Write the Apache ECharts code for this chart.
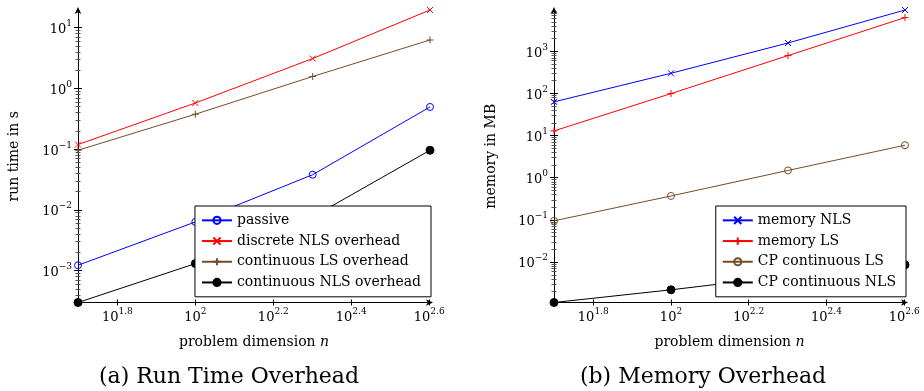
<!DOCTYPE html>
<html><head><meta charset="utf-8">
<script src="https://cdn.jsdelivr.net/npm/echarts@6/dist/echarts.min.js"></script>
<style>html,body{margin:0;padding:0;background:#fff}#c{width:924px;height:391px}</style>
</head><body><div id="c"></div>
<script>
// ---- data ----
const dims = [50, 100, 200, 400];
const xTickExps = [1.8, 2, 2.2, 2.4, 2.6];
// (a) run time overhead [s]
const passive = [0.00123, 0.00635, 0.038, 0.495];
const discreteNLS = [0.119, 0.575, 3.1, 19.5];
const continuousLS = [0.096, 0.376, 1.57, 6.26];
const continuousNLS = [0.0003, 0.00131, 0.0077, 0.096];
const yTickExpsA = [-3, -2, -1, 0, 1];
// (b) memory overhead [MB]
const memNLS = [63, 300, 1570, 9500];
const memLS = [12.9, 99, 789, 6280];
const cpLS = [0.095, 0.37, 1.49, 5.9];
const cpNLS = [0.0011, 0.0022, 0.0047, 0.0086];
const yTickExpsB = [-2, -1, 0, 1, 2, 3];

// ---- styling ----
const FAM = 'DejaVu Serif';
const BLUE = '#0000ff', RED = '#ff0000', BROWN = '#734d26', BLACK = '#000000';
const CROSS = 'path://M0,0L10,10M10,0L0,10';
const PLUS = 'path://M0,5L10,5M5,0L5,10';

function expFmt(v) {
  const e = Math.round(Math.log10(v) * 10) / 10;
  const s = (e < 0 ? '\u2212' : '') + Math.abs(e);
  return '{b|10}{s|' + s + '}';
}
const rich = {
  b: { fontFamily: FAM, fontSize: 13, color: '#000', lineHeight: 17, verticalAlign: 'bottom' },
  s: { fontFamily: FAM, fontSize: 9, color: '#000', verticalAlign: 'top' }
};
function minors(lo, hi) {
  const out = [];
  for (let k = Math.floor(Math.log10(lo)); k <= Math.ceil(Math.log10(hi)); k++) {
    for (let m = 2; m <= 9; m++) { const v = m * Math.pow(10, k); if (v >= lo && v <= hi) out.push(v); }
  }
  return out;
}
const lineBlack = { color: '#000', width: 1 };
const lineMinor = { color: '#555', width: 1 };

function xAxes(g) {
  const majors = xTickExps.map(e => Math.pow(10, e));
  const base = { type: 'log', gridIndex: g, min: dims[0], max: dims[dims.length - 1], position: 'bottom', splitLine: { show: false } };
  return [
    Object.assign({}, base, {
      axisLine: { show: true, onZero: false, lineStyle: lineBlack, symbol: ['none', 'arrow'], symbolSize: [5, 7], symbolOffset: [0, 3] },
      axisTick: { show: true, inside: false, length: 3, customValues: majors, lineStyle: lineBlack },
      axisLabel: { customValues: majors, formatter: expFmt, rich: rich, margin: 5 },
      name: 'problem dimension {i|n}', nameLocation: 'middle', nameGap: 33,
      nameTextStyle: { fontFamily: FAM, fontSize: 14, color: '#000', rich: { i: { fontFamily: FAM, fontSize: 14, fontStyle: 'italic', color: '#000' } } }
    }),
    Object.assign({}, base, {
      axisLine: { show: false, onZero: false },
      axisTick: { show: true, inside: true, length: 3, customValues: majors, lineStyle: lineBlack },
      axisLabel: { show: false }
    })
  ];
}
function yAxes(g, lo, hi, exps, name, gap) {
  const majors = exps.map(e => Math.pow(10, e));
  const mins = minors(lo, hi);
  const base = { type: 'log', gridIndex: g, min: lo, max: hi, position: 'left', splitLine: { show: false }, axisLabel: { show: false } };
  return [
    Object.assign({}, base, {
      axisLine: { show: true, onZero: false, lineStyle: lineBlack, symbol: ['none', 'arrow'], symbolSize: [5, 7], symbolOffset: [0, 3] },
      axisTick: { show: true, inside: false, length: 4, customValues: majors, lineStyle: lineBlack },
      axisLabel: { show: true, customValues: majors, formatter: expFmt, rich: rich, margin: 6 },
      name: name, nameLocation: 'middle', nameGap: gap,
      nameTextStyle: { fontFamily: FAM, fontSize: 14, color: '#000' }
    }),
    Object.assign({}, base, { axisLine: { show: false, onZero: false }, axisTick: { show: true, inside: true, length: 4, customValues: majors, lineStyle: lineBlack } }),
    Object.assign({}, base, { axisLine: { show: false, onZero: false }, axisTick: { show: true, inside: false, length: 2.5, customValues: mins, lineStyle: lineMinor } }),
    Object.assign({}, base, { axisLine: { show: false, onZero: false }, axisTick: { show: true, inside: true, length: 2.5, customValues: mins, lineStyle: lineMinor } })
  ];
}
function ser(name, vals, color, symbol, size, xi, yi, empty) {
  return {
    type: 'line', name: name, xAxisIndex: xi, yAxisIndex: yi,
    data: dims.map((d, i) => [d, vals[i]]),
    symbol: symbol, symbolSize: size, showSymbol: true, clip: false, animation: false,
    lineStyle: { color: color, width: 1 },
    itemStyle: { color: empty ? 'rgba(0,0,0,0)' : color, borderColor: color, borderWidth: 1 },
    emphasis: { disabled: true }
  };
}
function legend(names, right) {
  return {
    data: names, orient: 'vertical', right: right, top: 206,
    backgroundColor: '#fff', borderColor: '#000', borderWidth: 1, borderRadius: 0,
    padding: [4, 10, 4, 6], itemWidth: 30, itemHeight: 9, itemGap: 0,
    selectedMode: false,
    textStyle: { fontFamily: FAM, fontSize: 14, color: '#000', lineHeight: 20.7 }
  };
}

const chart = echarts.init(document.getElementById('c'), null, { renderer: 'canvas' });
chart.setOption({
  animation: false,
  backgroundColor: '#fff',
  grid: [
    { left: 78, top: 10, width: 352, height: 292.5, containLabel: false },
    { left: 554, top: 10, width: 351, height: 292.5, containLabel: false }
  ],
  xAxis: xAxes(0).concat(xAxes(1)),
  yAxis: yAxes(0, 0.0003, 19.5, yTickExpsA, 'run time in s', 57)
    .concat(yAxes(1, 0.0011, 9500, yTickExpsB, 'memory in MB', 56)),
  legend: [
    legend(['passive', 'discrete NLS overhead', 'continuous LS overhead', 'continuous NLS overhead'], 493),
    legend(['memory NLS', 'memory LS', 'CP continuous LS', 'CP continuous NLS'], 18)
  ],
  series: [
    ser('passive', passive, BLUE, 'circle', 7, 0, 0, true),
    ser('discrete NLS overhead', discreteNLS, RED, CROSS, 6, 0, 0),
    ser('continuous LS overhead', continuousLS, BROWN, PLUS, 7, 0, 0),
    ser('continuous NLS overhead', continuousNLS, BLACK, 'circle', 8, 0, 0),
    ser('memory NLS', memNLS, BLUE, CROSS, 6, 2, 4),
    ser('memory LS', memLS, RED, PLUS, 7, 2, 4),
    ser('CP continuous LS', cpLS, BROWN, 'circle', 7, 2, 4, true),
    ser('CP continuous NLS', cpNLS, BLACK, 'circle', 8, 2, 4)
  ],
  graphic: [
    { type: 'text', x: 229, y: 377, style: { text: '(a) Run Time Overhead', fontFamily: FAM, fontSize: 22, fill: '#000', align: 'center', verticalAlign: 'middle' } },
    { type: 'text', x: 703, y: 377, style: { text: '(b) Memory Overhead', fontFamily: FAM, fontSize: 22, fill: '#000', align: 'center', verticalAlign: 'middle' } }
  ]
});
</script></body></html>
